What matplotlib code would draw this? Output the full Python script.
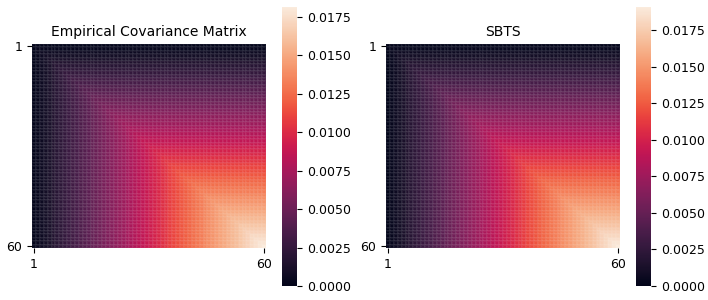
import numpy as np
import matplotlib
matplotlib.use("Agg")
import matplotlib.pyplot as plt
import seaborn as sns

# variance along the diagonal, cov[i, j] = var[min(i, j)]
empirical_var = [
	0.00000, 0.00031, 0.00062, 0.00093, 0.00123, 0.00154, 0.00185, 0.00216, 0.00246, 0.00277,
	0.00308, 0.00339, 0.00370, 0.00400, 0.00431, 0.00462, 0.00493, 0.00523, 0.00554, 0.00585,
	0.00616, 0.00647, 0.00677, 0.00708, 0.00739, 0.00770, 0.00800, 0.00831, 0.00862, 0.00893,
	0.00924, 0.00954, 0.00985, 0.01016, 0.01047, 0.01078, 0.01108, 0.01139, 0.01170, 0.01201,
	0.01232, 0.01262, 0.01293, 0.01324, 0.01355, 0.01386, 0.01416, 0.01447, 0.01478, 0.01509,
	0.01540, 0.01570, 0.01601, 0.01632, 0.01663, 0.01694, 0.01724, 0.01755, 0.01786, 0.01815,
]
sbts_var = [
	0.00000, 0.00033, 0.00065, 0.00097, 0.00130, 0.00162, 0.00194, 0.00227, 0.00259, 0.00292,
	0.00324, 0.00356, 0.00389, 0.00421, 0.00454, 0.00486, 0.00518, 0.00551, 0.00583, 0.00615,
	0.00648, 0.00680, 0.00713, 0.00745, 0.00777, 0.00810, 0.00842, 0.00874, 0.00907, 0.00939,
	0.00972, 0.01004, 0.01036, 0.01069, 0.01101, 0.01133, 0.01166, 0.01198, 0.01231, 0.01263,
	0.01295, 0.01328, 0.01360, 0.01392, 0.01425, 0.01457, 0.01490, 0.01522, 0.01554, 0.01587,
	0.01619, 0.01651, 0.01684, 0.01716, 0.01749, 0.01781, 0.01813, 0.01846, 0.01878, 0.01910,
]
titles = ["Empirical Covariance Matrix", "SBTS"]
tick_labels = ["1", "60"]


def cov_from_var(var):
	var = np.array(var)
	n = len(var)
	idx = np.minimum.outer(np.arange(n), np.arange(n))
	return var[idx]


fig = plt.figure(figsize=(7.08, 3.0), dpi=100)

layouts = [
	([0.0452, 0.1733, 0.3305, 0.68], [0.3983, 0.0467, 0.0212, 0.93]),
	([0.5452, 0.1733, 0.3305, 0.68], [0.8983, 0.0467, 0.0212, 0.93]),
]

for var, title, (ax_rect, cb_rect) in zip([empirical_var, sbts_var], titles, layouts):
	ax = fig.add_axes(ax_rect)
	cax = fig.add_axes(cb_rect)
	mat = cov_from_var(var)
	n = mat.shape[0]
	# faint cell edges, like the soft grid in the original render
	sns.heatmap(mat, ax=ax, cbar_ax=cax, cmap="rocket", vmin=0,
				linewidths=0.3, linecolor=(1, 1, 1, 0.06),
				xticklabels=False, yticklabels=False)
	ax.set_xticks([0.5, n - 0.5])
	ax.set_xticklabels(tick_labels, fontsize=9, rotation=0)
	ax.set_yticks([0.5, n - 0.5])
	ax.set_yticklabels(tick_labels, fontsize=9, rotation=0)
	ax.set_title(title, fontsize=10)
	cax.set_yticks([0.0, 0.0025, 0.005, 0.0075, 0.01, 0.0125, 0.015, 0.0175])
	cax.set_yticklabels([f"{t:.4f}" for t in cax.get_yticks()], fontsize=9)

fig.savefig("out.png", dpi=100)
